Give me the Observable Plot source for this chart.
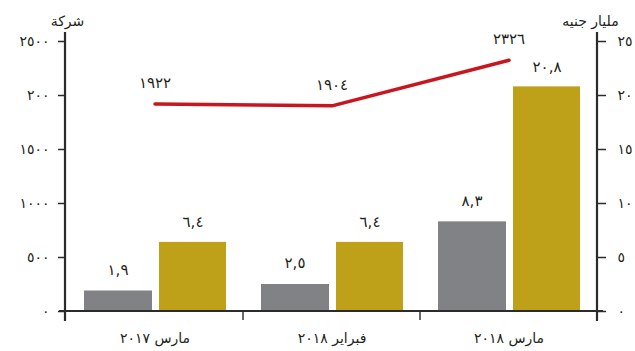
<!DOCTYPE html>
<html>
<head>
<meta charset="utf-8">
<script src="https://cdn.jsdelivr.net/npm/d3@7"></script>
<script src="https://cdn.jsdelivr.net/npm/@observablehq/plot@0.6"></script>
<style>
  body { margin: 0; background: #fff; }
  #chart svg { display: block; }
  #chart g[aria-label="values"] text { letter-spacing: 2px; }
  #chart g[aria-label="y-axis tick label"] text { letter-spacing: 5px; }
</style>
</head>
<body>
<div id="chart"></div>
<script>
// Months on the x axis
const months = ["مارس ٢٠١٧", "فبراير ٢٠١٨", "مارس ٢٠١٨"];
// Gray and gold bars, billion EGP (right axis)
const grayValues = [1.9, 2.5, 8.3];
const goldValues = [6.4, 6.4, 20.8];
// Number of companies (left axis, red line)
const companyCounts = [1922, 1904, 2326];

// Axis ticks: right axis in billions, left axis labels for companies (x100)
const tickValues = [0, 5, 10, 15, 20, 25];
const rightTickLabels = ["٠", "٥", "١٠", "١٥", "٢٠", "٢٥"];
const leftTickLabels = ["٠", "٥٠٠", "١٠٠٠", "١٥٠٠", "٢٠٠", "٢٥٠٠"];
const leftTitle = "شركة";
const rightTitle = "مليار جنيه";
const companyFactor = 100; // 2500 companies share the height of 25 billion

const rows = months.map((month, i) => ({
  month,
  gray: grayValues[i],
  gold: goldValues[i],
  companies: companyCounts[i]
}));

const arabicDigits = "٠١٢٣٤٥٦٧٨٩";
const toArabic = v => String(v).replace(/\d/g, d => arabicDigits[d]).replace(".", ",");

const ink = "#231f20";
const axisInk = "#2b2b2b";
const font = "DejaVu Sans, sans-serif";

// Axis lines, baseline and category separators
function axisFrame(index, scales, values, dims) {
  const {width, height, marginLeft, marginRight, marginTop, marginBottom} = dims;
  const xl = marginLeft, xr = width - marginRight;
  const yt = marginTop - 9, yb = height - marginBottom;
  const g = d3.create("svg:g").attr("stroke", axisInk).attr("fill", "none");
  g.append("line").attr("x1", xl).attr("x2", xl).attr("y1", yt).attr("y2", yb + 10).attr("stroke-width", 2.2);
  g.append("line").attr("x1", xr).attr("x2", xr).attr("y1", yt).attr("y2", yb + 10).attr("stroke-width", 2.2);
  g.append("line").attr("x1", xl - 6).attr("x2", xr + 6).attr("y1", yb).attr("y2", yb).attr("stroke-width", 2.2);
  for (const m of months.slice(1)) {
    const bx = scales.x(m);
    g.append("line").attr("x1", bx).attr("x2", bx).attr("y1", yb).attr("y2", yb + 9).attr("stroke-width", 1.4);
  }
  return g.node();
}

const chart = Plot.plot({
  width: 635,
  height: 351,
  marginLeft: 65,
  marginRight: 38,
  marginTop: 41,
  marginBottom: 40,
  style: {fontFamily: font, color: ink, background: "#fff", overflow: "visible"},
  x: {domain: months, padding: 0, label: null},
  y: {domain: [0, 25], label: null},
  marks: [
    Plot.barY(rows, {x: "month", y: "gray", fill: "#818285", insetLeft: 18, insetRight: 91}),
    Plot.barY(rows, {x: "month", y: "gold", fill: "#bfa019", insetLeft: 93, insetRight: 17}),
    Plot.line(rows, {x: "month", y: d => d.companies / companyFactor, stroke: "#c8161e", strokeWidth: 3.5}),
    Plot.text(rows, {x: "month", y: "gray", text: d => toArabic(d.gray), dx: -37, dy: -21, fontSize: 15, fill: ink, ariaLabel: "values"}),
    Plot.text(rows, {x: "month", y: "gold", text: d => toArabic(d.gold), dx: 38, dy: -20, fontSize: 15, fill: ink, ariaLabel: "values"}),
    Plot.text(rows, {x: "month", y: d => d.companies / companyFactor, text: d => toArabic(d.companies), dy: -21, fontSize: 15, fill: ink, ariaLabel: "values"}),
    Plot.axisY(tickValues, {anchor: "left", tickSize: 7, tickPadding: 9, stroke: axisInk, strokeWidth: 1.5, fontSize: 14, fill: ink,
      tickFormat: d => leftTickLabels[tickValues.indexOf(d)], label: null}),
    Plot.axisY(tickValues, {anchor: "right", tickSize: 8, tickPadding: 12, stroke: axisInk, strokeWidth: 1.5, fontSize: 14, fill: ink,
      tickFormat: d => rightTickLabels[tickValues.indexOf(d)], label: null}),
    Plot.axisX({anchor: "bottom", tickSize: 0, tickPadding: 22, fontSize: 14, fill: ink, label: null}),
    axisFrame,
    Plot.text([leftTitle], {frameAnchor: "top-left", textAnchor: "middle", dx: 2, dy: -25, fontSize: 14, fill: ink, ariaLabel: "titles"}),
    Plot.text([rightTitle], {frameAnchor: "top-right", textAnchor: "middle", dx: -7, dy: -25, fontSize: 14, fill: ink, ariaLabel: "titles"})
  ]
});

document.getElementById("chart").append(chart);
</script>
</body>
</html>
